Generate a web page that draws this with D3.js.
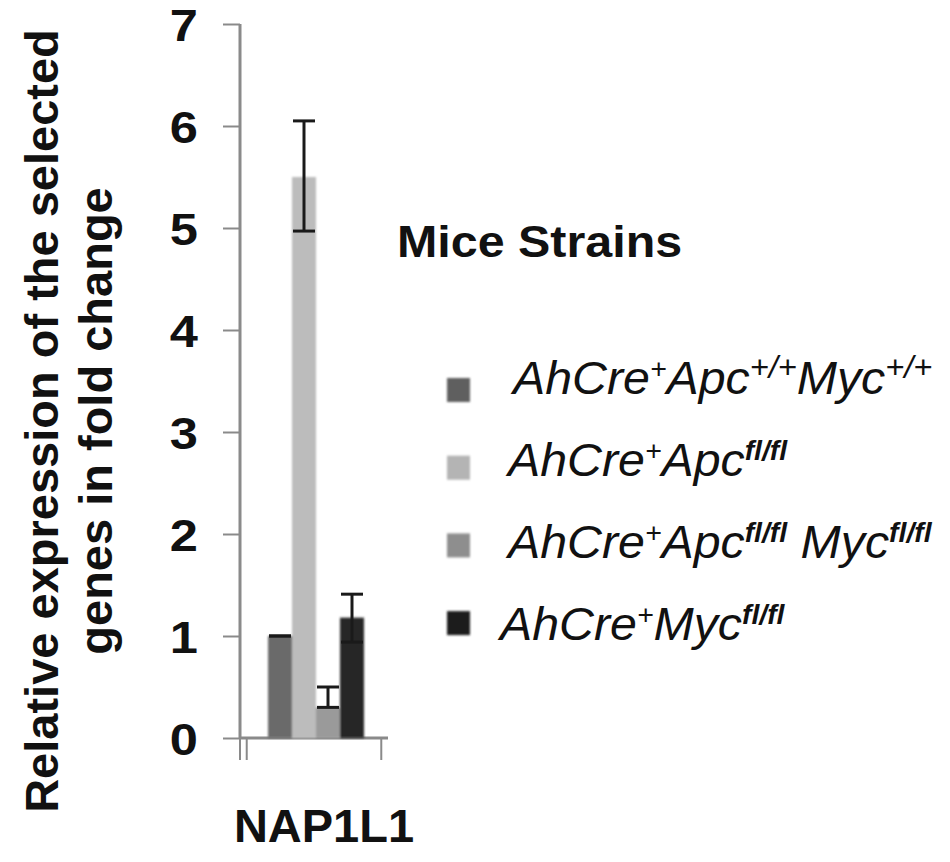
<!DOCTYPE html>
<html>
<head>
<meta charset="utf-8">
<script src="https://cdn.jsdelivr.net/npm/d3@7/dist/d3.min.js"></script>
<style>
  html, body { margin: 0; padding: 0; background: #fff; }
  svg { display: block; font-family: "Liberation Sans", Arial, sans-serif; }
</style>
</head>
<body>
<div id="chart"></div>
<script>
// data
const genes = ["NAP1L1"];
const strains = ["s1", "s2", "s3", "s4"];
// legend labels: [text, superscript?] pieces, italic
const strainLabels = [
    [["AhCre", 0], ["+", 1], ["Apc", 0], ["+/+", 1], ["Myc", 0], ["+/+", 1]],
    [["AhCre", 0], ["+", 1], ["Apc", 0], ["fl/fl", 1]],
    [["AhCre", 0], ["+", 1], ["Apc", 0], ["fl/fl", 1], [" Myc", 0], ["fl/fl", 1]],
    [["AhCre", 0], ["+", 1], ["Myc", 0], ["fl/fl", 1]]
];
const values = [1.0, 5.5, 0.3, 1.18];
const errLow = [0, 0.53, 0, 0.24];
const errHigh = [0, 0.55, 0.2, 0.23];
const yTicks = [0, 1, 2, 3, 4, 5, 6, 7];
const colors = ["#6a6a6a", "#bcbcbc", "#9a9a9a", "#262626"];
const legendColors = ["#5f5f5f", "#b4b4b4", "#8e8e8e", "#1e1e1e"];

const width = 950, height = 862;
const svg = d3.select("#chart").append("svg")
    .attr("width", width)
    .attr("height", height);

svg.append("rect").attr("width", width).attr("height", height).attr("fill", "#fff");

// soft edges like the scanned figure
svg.append("defs").append("filter").attr("id", "soft")
    .append("feGaussianBlur").attr("stdDeviation", 0.9);

// scales
const axisX = 240;
const y = d3.scaleLinear().domain([0, 7]).range([738, 24]);
const x0 = d3.scaleBand().domain(genes).range([axisX, 388]).paddingOuter(0.05).paddingInner(0);
const groupW = 96;
const x1 = d3.scaleBand().domain(strains).range([0, groupW]);

// y axis
const yAxis = svg.append("g")
    .attr("transform", `translate(${axisX},0)`)
    .call(d3.axisLeft(y).tickValues(yTicks).tickSize(17).tickPadding(0).tickFormat(d3.format("d")));
yAxis.select(".domain").attr("stroke", "#8a8a8a").attr("stroke-width", 3)
    .attr("d", `M0,${y(7)}V${y(0)}`);
yAxis.selectAll(".tick line").attr("stroke", "#8a8a8a").attr("stroke-width", 2);
yAxis.selectAll(".tick text")
    .attr("x", null)
    .attr("dy", "0.36em")
    .attr("transform", "translate(-42,1) scale(1.15,1)")
    .attr("text-anchor", "end")
    .attr("fill", "#111")
    .style("font-family", "'Liberation Sans', Arial, sans-serif")
    .style("font-weight", "bold")
    .style("font-size", "44px");

// x axis line and category boundary ticks
const xAxis = svg.append("g");
xAxis.append("line")
    .attr("x1", axisX).attr("x2", x0.range()[1])
    .attr("y1", y(0)).attr("y2", y(0))
    .attr("stroke", "#8a8a8a").attr("stroke-width", 3);
const bounds = [axisX, x0(genes[0]), x0(genes[0]) + x0.bandwidth()];
xAxis.selectAll(".bt").data(bounds).enter().append("line")
    .attr("class", "bt")
    .attr("x1", d => d).attr("x2", d => d)
    .attr("y1", y(0)).attr("y2", y(0) + 22)
    .attr("stroke", "#8a8a8a").attr("stroke-width", 2);

xAxis.selectAll(".cat").data(genes).enter().append("text")
    .attr("class", "cat")
    .attr("x", d => x0(d) + x0.bandwidth() / 2 + 10)
    .attr("y", 842)
    .attr("text-anchor", "middle")
    .style("font-weight", "bold")
    .style("font-size", "47px")
    .attr("fill", "#111")
    .text(d => d);

// bars
const barData = strains.map((s, i) => ({ gene: genes[0], s, v: values[i], lo: errLow[i], hi: errHigh[i], c: colors[i] }));
const groupX = d => x0(d.gene) + x0.bandwidth() / 2 - groupW / 2 + 2;

svg.append("g").attr("filter", "url(#soft)")
    .selectAll("rect").data(barData).enter().append("rect")
    .attr("x", d => groupX(d) + x1(d.s))
    .attr("width", x1.bandwidth())
    .attr("y", d => y(d.v))
    .attr("height", d => y(0) - y(d.v))
    .attr("fill", d => d.c);

// error bars
const err = svg.append("g").attr("stroke", "#1a1a1a").attr("stroke-width", 3);
barData.forEach(d => {
    const cx = groupX(d) + x1(d.s) + x1.bandwidth() / 2;
    const cw = x1.bandwidth() - 2;
    const top = y(d.v + d.hi), bot = y(d.v - d.lo);
    err.append("line").attr("x1", cx).attr("x2", cx).attr("y1", top).attr("y2", bot);
    err.append("line").attr("x1", cx - cw / 2).attr("x2", cx + cw / 2).attr("y1", top).attr("y2", top);
    err.append("line").attr("x1", cx - cw / 2).attr("x2", cx + cw / 2).attr("y1", bot).attr("y2", bot);
});

// y axis title, two lines
const yTitle = svg.append("text")
    .attr("transform", "translate(58,421) rotate(-90)")
    .attr("text-anchor", "middle")
    .style("font-weight", "bold")
    .style("font-size", "47px")
    .attr("fill", "#111");
yTitle.append("tspan").attr("x", 0).attr("y", 0).text("Relative expression of the selected");
yTitle.append("tspan").attr("x", 0).attr("y", 54).text("genes in fold change");

// legend
svg.append("text")
    .attr("transform", "translate(397,257) scale(1.1,1)")
    .style("font-weight", "bold")
    .style("font-size", "44px")
    .attr("fill", "#111")
    .text("Mice Strains");

const legend = svg.append("g");
const rows = legend.selectAll(".row").data(strains).enter().append("g")
    .attr("class", "row");

rows.append("rect")
    .attr("x", 447)
    .attr("y", (d, i) => 378 + i * 77.7)
    .attr("width", 23).attr("height", 24)
    .attr("fill", (d, i) => legendColors[i])
    .attr("filter", "url(#soft)");

const raise = 16;
rows.append("text")
    .attr("transform", (d, i) => `translate(${i === 0 ? 513 : (i === 3 ? 500 : 508)},${394 + i * 82}) scale(1.05,1)`)
    .style("font-style", "italic")
    .style("font-size", "46px")
    .style("white-space", "pre")
    .attr("fill", "#111")
    .each(function (d, i) {
        const t = d3.select(this);
        let up = false;
        strainLabels[i].forEach(p => {
            const sup = p[1] === 1;
            const dy = sup && !up ? -raise : (!sup && up ? raise : 0);
            up = sup;
            t.append("tspan")
                .attr("dy", dy)
                .style("font-size", sup ? (p[0] === "+/+" ? "31px" : "27px") : null)
                .style("font-weight", sup && p[0].includes("fl") ? "bold" : null)
                .text(p[0]);
        });
    });
</script>
</body>
</html>
